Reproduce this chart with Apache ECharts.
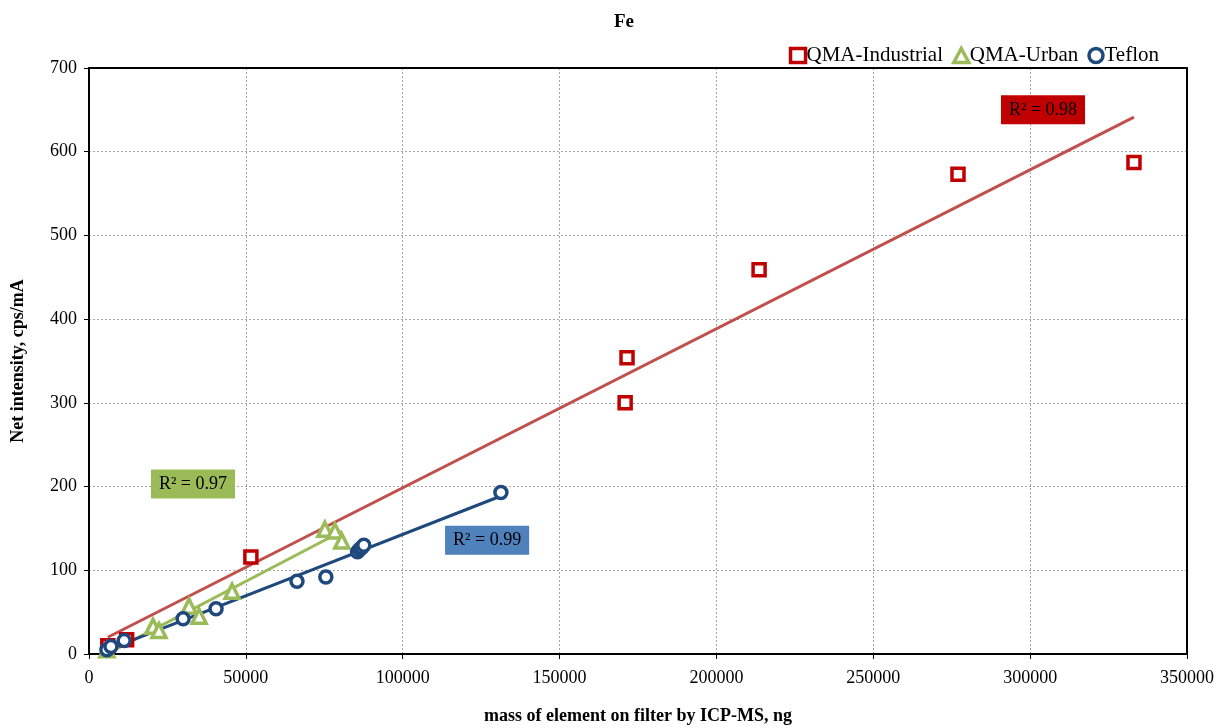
<!DOCTYPE html>
<html>
<head>
<meta charset="utf-8">
<script src="https://cdn.jsdelivr.net/npm/echarts@6/dist/echarts.min.js"></script>
<style>
  html, body { margin: 0; padding: 0; background: #fff; }
  #chart { width: 1224px; height: 728px; }
</style>
</head>
<body>
<div id="chart"></div>
<script>
// Fe calibration: XRF net intensity vs. ICP-MS mass on filter
const industrialX = [6000, 12000, 51600, 170900, 171500, 213600, 277000, 333100];
const industrialY = [10, 17, 116, 300, 354, 459, 573, 587];

const urbanX = [5700, 20400, 22300, 31900, 35100, 45600, 75200, 78400, 80600];
const urbanY = [5, 33, 28, 57, 45, 75, 149, 147, 135];

const teflonX = [5700, 7000, 11200, 30000, 40500, 66300, 75500, 85600, 86300, 86900, 87600, 131300];
const teflonY = [5, 9, 16, 42, 54, 87, 92, 122, 125, 127, 130, 193];

const seriesNames = ['QMA-Industrial', 'QMA-Urban', 'Teflon'];
const rSquared = ['0.98', '0.97', '0.99'];
// where each R² box sits, in data units
const labelAnchorX = [304100, 33150, 126900];
const labelAnchorY = [650, 203, 136];

const xTicks = [0, 50000, 100000, 150000, 200000, 250000, 300000, 350000];
const yTicks = [0, 100, 200, 300, 400, 500, 600, 700];

const markerColors = ['#c00000', '#9bbb59', '#1f497d'];
const lineColors = ['#c0504d', '#9bbb59', '#1f497d'];
const labelBg = ['#c00000', '#9bbb59', '#4f81bd'];
const symbols = ['rect', 'triangle', 'circle'];

const FONT = '"Liberation Serif", "Times New Roman", serif';

function pairs(xs, ys) { return xs.map((x, i) => [x, ys[i]]); }

// least-squares linear fit spanning the data's x range
function fitLine(xs, ys) {
  const n = xs.length;
  const mx = xs.reduce((a, b) => a + b, 0) / n;
  const my = ys.reduce((a, b) => a + b, 0) / n;
  let sxy = 0, sxx = 0;
  for (let i = 0; i < n; i++) { sxy += (xs[i] - mx) * (ys[i] - my); sxx += (xs[i] - mx) ** 2; }
  const b = sxy / sxx, a = my - b * mx;
  const x0 = Math.min(...xs), x1 = Math.max(...xs);
  return [[x0, a + b * x0], [x1, a + b * x1]];
}

const groups = [
  [industrialX, industrialY],
  [urbanX, urbanY],
  [teflonX, teflonY]
];

const series = [];
groups.forEach((g, i) => {
  series.push({
    name: seriesNames[i] + ' fit',
    type: 'line',
    data: fitLine(g[0], g[1]),
    symbol: 'none',
    lineStyle: { color: lineColors[i], width: 3 },
    silent: true,
    z: 2,
    markPoint: {
      symbol: 'rect',
      symbolSize: 1,
      itemStyle: { color: 'transparent' },
      data: [{
        coord: [labelAnchorX[i], labelAnchorY[i]],
        label: {
          show: true,
          formatter: 'R² = ' + rSquared[i],
          backgroundColor: labelBg[i],
          color: '#000',
          fontFamily: FONT,
          fontSize: 18,
          padding: [6, 8, 5, 8],
          position: 'inside'
        }
      }]
    }
  });
});
groups.forEach((g, i) => {
  series.push({
    name: seriesNames[i],
    type: 'scatter',
    data: pairs(g[0], g[1]),
    symbol: symbols[i],
    symbolSize: symbols[i] === 'triangle' ? 14 : 12,
    itemStyle: { color: '#fff', borderColor: markerColors[i], borderWidth: 3.5, opacity: 1 },
    z: 3
  });
});

const axisLabelFont = { fontFamily: FONT, fontSize: 18, color: '#000' };
const titleFont = { fontFamily: FONT, fontSize: 18, fontWeight: 'bold', color: '#000' };
const gridLine = { show: true, lineStyle: { color: '#a6a6a6', type: [2, 2], width: 1 } };
const frameLine = { show: true, onZero: false, lineStyle: { color: '#000', width: 2 } };

const chart = echarts.init(document.getElementById('chart'));
chart.setOption({
  animation: false,
  backgroundColor: '#fff',
  title: {
    text: 'Fe',
    left: 619, top: 8, textAlign: 'center',
    textStyle: { fontFamily: FONT, fontSize: 19, fontWeight: 'bold', color: '#000' }
  },
  legend: {
    data: seriesNames,
    right: 60, top: 40,
    itemWidth: 15, itemHeight: 14, itemGap: 9,
    itemStyle: { borderWidth: 3.5 },
    textStyle: { fontFamily: FONT, fontSize: 21, color: '#000', padding: [0, 0, 0, -4] }
  },
  grid: { left: 89, right: 37, top: 68, bottom: 74, outerBoundsMode: 'none', containLabel: false },
  xAxis: [{
    type: 'value',
    min: xTicks[0], max: xTicks[xTicks.length - 1], interval: 50000,
    name: 'mass of element on filter by ICP-MS, ng',
    nameLocation: 'middle', nameGap: 53,
    nameTextStyle: titleFont,
    axisLine: frameLine,
    axisTick: { show: true, length: 5, inside: false, lineStyle: { color: '#000' } },
    axisLabel: Object.assign({ margin: 15, formatter: v => String(v) }, axisLabelFont),
    splitLine: gridLine
  }, {
    // top edge of the plot frame
    type: 'value', position: 'top',
    min: xTicks[0], max: xTicks[xTicks.length - 1], interval: 50000,
    axisLine: frameLine, axisTick: { show: false }, axisLabel: { show: false }, splitLine: { show: false }
  }],
  yAxis: [{
    type: 'value',
    min: yTicks[0], max: yTicks[yTicks.length - 1], interval: 100,
    name: 'Net intensity, cps/mA',
    nameLocation: 'middle', nameGap: 62,
    nameTextStyle: titleFont,
    axisLine: frameLine,
    axisTick: { show: true, length: 5, lineStyle: { color: '#000' } },
    axisLabel: Object.assign({ margin: 12 }, axisLabelFont),
    splitLine: gridLine
  }, {
    // right edge of the plot frame
    type: 'value', position: 'right',
    min: yTicks[0], max: yTicks[yTicks.length - 1], interval: 100,
    axisLine: frameLine, axisTick: { show: false }, axisLabel: { show: false }, splitLine: { show: false }
  }],
  series: series
});
</script>
</body>
</html>
